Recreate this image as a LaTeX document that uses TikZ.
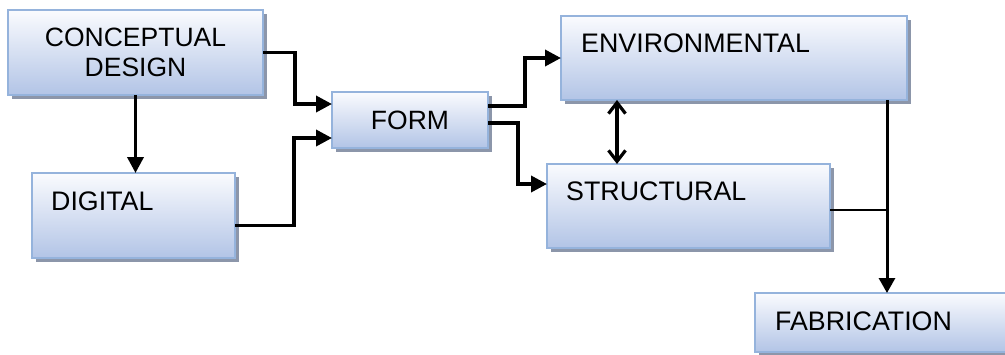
\documentclass[tikz,border=0pt]{standalone}
\usepackage{fontspec}
\setmainfont{Liberation Sans}
\usetikzlibrary{arrows.meta,shadows,calc}
\definecolor{boxtop}{RGB}{250,251,254}
\definecolor{boxbot}{RGB}{178,196,230}
\definecolor{boxline}{RGB}{149,179,220}
\definecolor{shadowc}{RGB}{140,150,170}
\begin{document}
\begin{tikzpicture}[x=1pt,y=-1pt,
  box/.style={draw=boxline, line width=2pt, top color=boxtop, bottom color=boxbot,
    shading angle=0, anchor=north west, inner sep=0pt, outer sep=0pt,
    drop shadow={shadow xshift=3.5pt, shadow yshift=-3.5pt, fill=shadowc, opacity=1},
    font=\fontsize{26.5}{30.5}\selectfont, align=center},
  lbl/.style={anchor=base west, inner sep=0pt, font=\fontsize{26.8}{30}\selectfont},
  arr/.style={line width=3.6pt, -{Triangle[length=16pt,width=16pt]}},
  darr/.style={line width=3.2pt, {Straight Barb[length=11pt,width=17pt,line width=3.2pt]}-{Straight Barb[length=11pt,width=17pt,line width=3.2pt]}},
  farr/.style={line width=3pt, -{Triangle[length=15pt,width=16pt]}},
  thin/.style={line width=1.6pt}]
\useasboundingbox[fill=white] (0,0) rectangle (1005,354);
\node[box, minimum width=255pt, minimum height=85pt] (concept) at (8,10) {CONCEPTUAL\\DESIGN};
\node[box, minimum width=203pt, minimum height=85pt] (digital) at (32,173) {};
\node[box, minimum width=156pt, minimum height=56pt] (form) at (332,92) {FORM};
\node[box, minimum width=346pt, minimum height=84pt] (env) at (561,16) {};
\node[box, minimum width=283pt, minimum height=84pt] (struct) at (547,164) {};
\node[box, minimum width=264pt, minimum height=59pt] (fab) at (755,293) {};
\node[lbl] (digitalt) at ([xshift=19pt,yshift=-37pt]digital.north west) {DIGITAL};
\node[lbl] (envt) at ([xshift=20pt,yshift=-36pt]env.north west) {ENVIRONMENTAL};
\node[lbl] (structt) at ([xshift=19pt,yshift=-36pt]struct.north west) {STRUCTURAL};
\node[lbl] (fabt) at ([xshift=20pt,yshift=-37pt]fab.north west) {FABRICATION};
\draw[arr] (concept.south) -- (concept.south |- digital.north);
\draw[arr] (concept.east) -- ++(32,0) |- ([yshift=16pt]form.west);
\draw[arr] ([yshift=-10pt]digital.east) -- ++(59,0) |- ([yshift=-18pt]form.west);
\draw[arr] ([yshift=14pt]form.east) -- ++(37,0) |- (env.west);
\draw[arr] ([yshift=-3pt]form.east) -- ++(30,0) |- ([yshift=22pt]struct.west);
\draw[darr] ([xshift=-117pt]env.south) -- ([xshift=-117pt]env.south |- struct.north);
\draw[farr] (env.south -| fab.north) -- (fab.north);
\draw[thin] ([yshift=-4pt]struct.east) -- ([yshift=-4pt]struct.east -| fab.north);
\end{tikzpicture}
\end{document}
